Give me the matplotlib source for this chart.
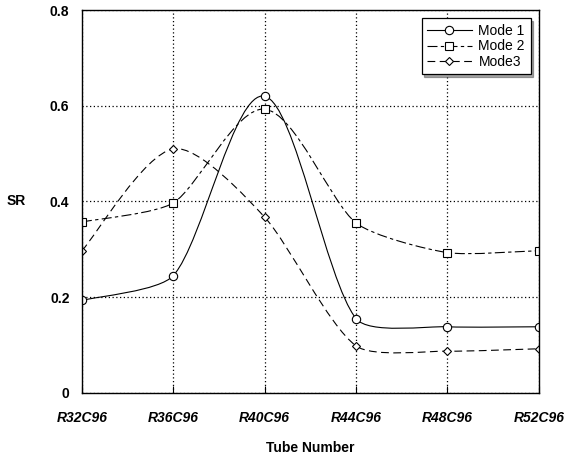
import numpy as np
import matplotlib
matplotlib.use("Agg")
import matplotlib.pyplot as plt
from matplotlib.path import Path
from matplotlib.patches import PathPatch

plt.rcParams['font.family'] = ['Liberation Sans', 'DejaVu Sans']

tubes = ['R32C96', 'R36C96', 'R40C96', 'R44C96', 'R48C96', 'R52C96']
mode1 = [0.193, 0.245, 0.620, 0.155, 0.138, 0.138]
mode2 = [0.357, 0.397, 0.593, 0.355, 0.293, 0.297]
mode3 = [0.297, 0.510, 0.367, 0.098, 0.087, 0.092]


def smooth_path(x, y, sx, sy, clip=0.22):
    """Catmull-Rom bezier through the points; arms clipped to a share of the segment."""
    p = np.column_stack([np.asarray(x, float) * sx, np.asarray(y, float) * sy])
    n = len(p)
    tang = np.array([(p[min(i + 1, n - 1)] - p[max(i - 1, 0)]) / 6.0 for i in range(n)])
    verts = [tuple(p[0])]
    codes = [Path.MOVETO]
    for i in range(n - 1):
        L = np.hypot(*(p[i + 1] - p[i]))
        a1, a2 = tang[i], tang[i + 1]
        m1, m2 = np.hypot(*a1), np.hypot(*a2)
        if m1 > clip * L:
            a1 = a1 * clip * L / m1
        if m2 > clip * L:
            a2 = a2 * clip * L / m2
        verts += [tuple(p[i] + a1), tuple(p[i + 1] - a2), tuple(p[i + 1])]
        codes += [Path.CURVE4] * 3
    verts = [(vx / sx, vy / sy) for vx, vy in verts]
    return Path(verts, codes)


fig = plt.figure(figsize=(5.69, 4.61), dpi=100)
ax = fig.add_axes([0.144, 0.148, 0.803, 0.830])
ax.set_xlim(0, 5)
ax.set_ylim(0, 0.8)
# pixels per data unit, so the smoothing works in screen space
sx = 0.803 * 569 / 5
sy = 0.830 * 461 / 0.8

xs = np.arange(len(tubes))
series = [
    ('Mode 1', mode1, 'o', '-', 6),
    ('Mode 2', mode2, 's', (0, (9, 3, 3, 3)), 6),
    ('Mode3', mode3, 'D', (0, (7, 4)), 4),
]
for label, vals, mk, ls, ms in series:
    patch = PathPatch(smooth_path(xs, vals, sx, sy), facecolor='none', edgecolor='black',
                      linewidth=0.8, linestyle=ls)
    ax.add_patch(patch)
    ax.plot(xs, vals, linestyle='none', marker=mk, markersize=ms,
            markerfacecolor='white', markeredgecolor='black', markeredgewidth=0.8)
    # proxy for the legend
    ax.plot([], [], color='black', linewidth=0.8, linestyle=ls, marker=mk,
            markersize=ms, markerfacecolor='white', markeredgecolor='black',
            markeredgewidth=0.8, label=label)

ax.set_xticks(xs)
ax.set_xticklabels(tubes, fontsize=10, fontweight='bold', fontstyle='italic')
ax.set_yticks([0, 0.2, 0.4, 0.6, 0.8])
ax.set_yticklabels(['0', '0.2', '0.4', '0.6', '0.8'], fontsize=10, fontweight='bold')
ax.tick_params(axis='x', direction='in', length=5, pad=13)
ax.tick_params(axis='y', direction='in', length=0, pad=9)
ax.grid(True, linestyle=(0, (1, 2)), color='black', linewidth=0.9)

ax.set_xlabel('Tube Number', fontsize=10, fontweight='bold', labelpad=12)
ax.set_ylabel('SR', fontsize=10, fontweight='bold', rotation=0, labelpad=24, va='center')

leg = ax.legend(loc='upper right', fontsize=10, frameon=True, fancybox=False,
                shadow=True, borderaxespad=0.6, handlelength=3.2, labelspacing=0.1,
                borderpad=0.4, handletextpad=0.5)
leg.get_frame().set_edgecolor('black')
leg.get_frame().set_linewidth(0.9)

for s in ax.spines.values():
    s.set_linewidth(1.0)

fig.savefig('out.png', dpi=100)
